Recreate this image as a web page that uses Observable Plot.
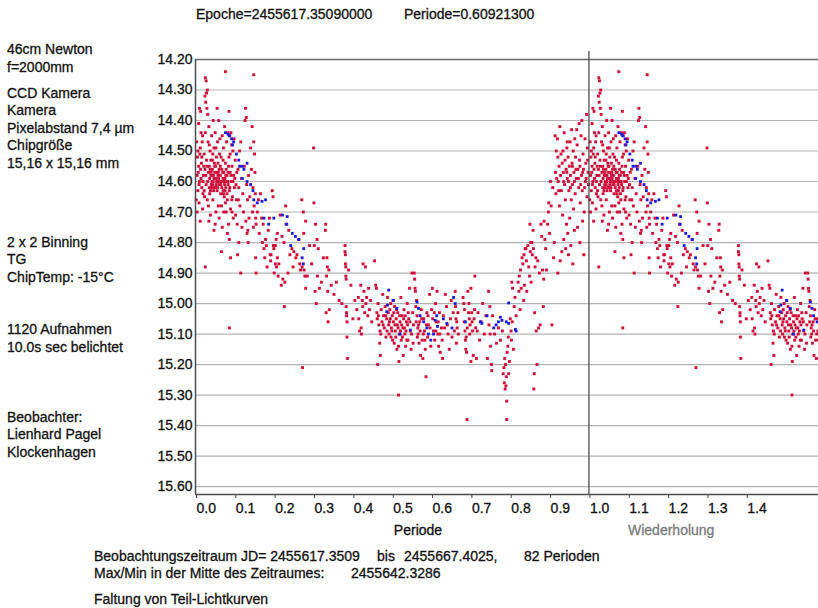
<!DOCTYPE html>
<html>
<head>
<meta charset="utf-8">
<script src="https://cdn.jsdelivr.net/npm/d3@7"></script>
<script src="https://cdn.jsdelivr.net/npm/@observablehq/plot@0.6"></script>
<style>
  html, body { margin: 0; padding: 0; background: #fff; }
  #page { position: relative; width: 818px; height: 608px; overflow: hidden; background: #fff;
          font-family: "Liberation Sans", Arial, sans-serif; font-size: 14px; color: #111; }
  #chart { position: absolute; left: 0; top: 0; }
  .t { position: absolute; white-space: pre; line-height: 16px; -webkit-text-stroke: 0.3px currentColor; }
  #chart text { stroke: #111; stroke-width: 0.3px; }
</style>
</head>
<body>
<div id="page"><div id="chart"></div></div>
<script>
// ---------- data ----------
const titleEpoch = "Epoche=2455617.35090000";
const titlePeriod = "Periode=0.60921300";
const infoInstrument = ["46cm Newton", "f=2000mm"];
const infoCamera = ["CCD Kamera", "Kamera", "Pixelabstand 7,4 µm", "Chipgröße", "15,16 x 15,16 mm"];
const infoBinning = ["2 x 2 Binning", "TG", "ChipTemp: -15°C"];
const infoExposure = ["1120 Aufnahmen", "10.0s sec belichtet"];
const infoObserver = ["Beobachter:", "Lienhard Pagel", "Klockenhagen"];
const xLabel = "Periode";
const xLabelRepeat = "Wiederholung";
const footer1 = ["Beobachtungszeitraum JD= 2455617.3509", "bis", "2455667.4025,", "82 Perioden"];
const footer2 = ["Max/Min in der Mitte des Zeitraumes:", "2455642.3286"];
const footer3 = "Faltung von Teil-Lichtkurven";

const yTicks = [14.2, 14.3, 14.4, 14.5, 14.6, 14.7, 14.8, 14.9, 15.0, 15.1, 15.2, 15.3, 15.4, 15.5, 15.6];
const xTicks = [0, 0.1, 0.2, 0.3, 0.4, 0.5, 0.6, 0.7, 0.8, 0.9, 1.0, 1.1, 1.2, 1.3, 1.4];

// [phase, magnitude] - individual measurements (red)
const redPoints = [
[0.003,14.47],[0.005,14.52],[0.004,14.58],[0.006,14.63],[0.002,14.66],[0.004,14.70],[0.008,14.41],[0.010,14.36],[0.013,14.37],[0.008,14.55],
[0.010,14.60],[0.012,14.49],[0.015,14.54],[0.016,14.62],[0.018,14.45],[0.020,14.58],[0.022,14.51],[0.024,14.32],[0.025,14.26],[0.027,14.27],
[0.028,14.31],[0.030,14.30],[0.026,14.34],[0.029,14.36],[0.031,14.38],[0.025,14.44],[0.024,14.56],[0.027,14.61],[0.028,14.53],[0.023,14.65],
[0.012,14.73],[0.018,14.69],[0.025,14.88],[0.007,14.57],[0.014,14.59],[0.019,14.64],[0.021,14.55],[0.011,14.51],[0.017,14.47],[0.009,14.67],
[0.032,14.47],[0.034,14.42],[0.035,14.55],[0.036,14.59],[0.037,14.50],[0.038,14.63],[0.040,14.57],[0.041,14.45],[0.042,14.60],[0.043,14.53],
[0.044,14.66],[0.045,14.40],[0.046,14.58],[0.047,14.49],[0.048,14.62],[0.049,14.55],[0.050,14.44],[0.051,14.59],[0.052,14.70],[0.053,14.52],
[0.054,14.57],[0.055,14.36],[0.055,14.63],[0.056,14.47],[0.057,14.54],[0.058,14.60],[0.059,14.40],[0.060,14.56],[0.060,14.72],[0.034,14.73],
[0.038,14.71],[0.047,14.76],[0.050,14.74],[0.033,14.68],[0.044,14.51],[0.041,14.62],[0.036,14.64],[0.039,14.58],[0.053,14.61],[0.057,14.58],
[0.045,14.60],[0.049,14.57],[0.052,14.59],[0.043,14.56],[0.048,14.54],[0.058,14.57],[0.040,14.61],[0.046,14.63],
[0.006,14.50],[0.009,14.61],[0.013,14.56],[0.016,14.52],[0.019,14.60],[0.022,14.63],[0.026,14.58],[0.029,14.55],[0.031,14.60],[0.033,14.57],
[0.035,14.62],[0.037,14.56],[0.039,14.53],[0.042,14.58],[0.044,14.61],[0.047,14.59],[0.050,14.62],[0.051,14.55],[0.054,14.60],[0.056,14.62],
[0.059,14.59],[0.061,14.61],[0.063,14.55],[0.067,14.62],[0.069,14.57],[0.071,14.64],[0.073,14.60],[0.075,14.63],[0.078,14.56],[0.080,14.64],
[0.082,14.60],[0.084,14.55],[0.087,14.62],[0.090,14.58],[0.092,14.66],[0.095,14.60],[0.035,14.48],[0.052,14.49],[0.061,14.51],[0.070,14.53],
[0.088,14.51],[0.014,14.44],[0.030,14.66],[0.058,14.68],[0.076,14.67],[0.093,14.70],[0.100,14.59],[0.103,14.61],[0.105,14.57],[0.109,14.66],
[0.062,14.46],[0.063,14.58],[0.064,14.61],[0.065,14.52],[0.066,14.68],[0.067,14.56],[0.068,14.45],[0.069,14.60],[0.070,14.63],[0.071,14.49],
[0.072,14.57],[0.073,14.65],[0.074,14.42],[0.075,14.59],[0.076,14.24],[0.076,14.54],[0.077,14.62],[0.078,14.70],[0.079,14.47],[0.080,14.58],
[0.081,14.66],[0.082,14.44],[0.083,14.61],[0.084,14.74],[0.085,14.37],[0.085,14.52],[0.086,14.63],[0.087,14.45],[0.088,14.57],[0.089,14.69],
[0.090,14.44],[0.091,14.60],[0.092,14.48],[0.093,14.55],[0.094,14.65],[0.095,14.50],[0.096,14.72],[0.097,14.58],[0.098,14.46],[0.099,14.62],
[0.086,14.79],[0.081,14.77],[0.089,14.85],[0.068,14.75],[0.066,14.83],[0.072,14.70],[0.064,14.64],[0.079,14.60],[0.086,15.08],[0.070,14.59],
[0.074,14.61],[0.077,14.58],[0.083,14.57],[0.065,14.60],
[0.101,14.53],[0.102,14.71],[0.104,14.66],[0.106,14.74],[0.108,14.56],[0.110,14.62],[0.112,14.50],[0.113,14.68],[0.115,14.47],[0.117,14.59],
[0.118,14.75],[0.120,14.64],[0.122,14.70],[0.124,14.55],[0.126,14.40],[0.127,14.36],[0.128,14.73],[0.129,14.39],[0.130,14.61],[0.131,14.77],
[0.132,14.66],[0.134,14.80],[0.135,14.58],[0.136,14.72],[0.138,14.65],[0.140,14.49],[0.142,14.56],[0.144,14.42],[0.145,14.70],[0.146,14.62],
[0.147,14.75],[0.148,14.25],[0.148,14.47],[0.149,14.68],[0.150,14.51],[0.151,14.57],[0.152,14.64],[0.153,14.72],[0.154,14.74],[0.107,14.84],
[0.115,14.90],[0.153,14.85],[0.154,14.90],[0.133,14.76],[0.110,14.80],
[0.157,14.70],[0.160,14.66],[0.162,14.77],[0.165,14.64],[0.168,14.72],[0.170,14.80],[0.172,14.74],[0.174,14.82],[0.176,14.85],[0.178,14.79],
[0.180,14.81],[0.182,14.88],[0.185,14.76],[0.188,14.72],[0.190,14.84],[0.191,14.86],[0.192,14.84],[0.195,14.63],[0.197,14.65],[0.198,14.81],
[0.199,14.82],[0.200,14.90],[0.203,14.81],[0.203,14.87],[0.205,14.79],[0.206,14.88],[0.208,14.77],[0.208,14.85],[0.210,14.91],[0.212,14.87],
[0.215,14.71],[0.218,14.94],[0.220,14.78],[0.222,14.92],[0.225,14.80],[0.227,14.93],[0.229,14.68],[0.230,14.74],[0.235,14.90],[0.237,14.76],
[0.240,14.84],[0.245,14.82],[0.248,14.88],[0.250,14.83],[0.226,15.01],
[0.255,14.85],[0.258,14.84],[0.262,14.79],[0.265,14.87],[0.267,14.89],[0.270,14.66],[0.271,14.88],[0.272,15.21],[0.274,14.70],[0.275,14.77],
[0.276,14.89],[0.278,14.91],[0.280,14.73],[0.280,14.95],[0.284,14.91],[0.290,14.81],[0.295,14.87],[0.300,14.49],[0.301,14.67],[0.302,14.81],
[0.304,14.96],[0.305,14.74],[0.307,15.00],[0.309,14.79],[0.310,14.91],[0.312,14.82],[0.315,14.95],[0.320,14.93],[0.325,14.85],[0.330,14.76],
[0.331,14.74],[0.332,15.03],[0.333,14.91],[0.334,14.85],[0.335,14.88],[0.336,14.96],[0.337,15.06],[0.339,14.89],[0.340,15.02],[0.345,14.94],
[0.352,14.97],[0.358,14.93],[0.365,14.99],[0.372,15.00],[0.380,14.81],[0.380,14.83],[0.381,14.84],[0.381,14.87],[0.382,14.88],[0.382,14.91],
[0.383,14.92],[0.383,15.01],[0.384,15.03],[0.384,15.04],[0.385,15.06],[0.385,15.11],[0.386,15.18],[0.389,14.89],[0.395,14.94],[0.400,15.05],
[0.405,14.99],[0.410,15.02],[0.414,14.98],[0.415,15.05],[0.417,15.09],[0.420,14.94],[0.421,15.08],[0.422,15.10],[0.424,14.99],[0.425,15.01],
[0.426,14.87],[0.428,14.96],[0.430,15.03],[0.432,14.88],[0.433,15.00],[0.435,14.98],[0.438,15.04],[0.440,14.95],[0.442,15.02],[0.445,14.99],
[0.448,15.06],
[0.455,14.86],[0.458,14.94],[0.460,14.95],[0.461,15.03],[0.462,15.05],[0.463,15.20],[0.464,15.00],[0.466,15.07],[0.468,15.13],[0.469,15.09],
[0.470,15.17],[0.472,15.02],[0.474,15.06],[0.476,14.97],[0.478,15.04],[0.480,15.08],[0.482,15.01],[0.484,15.11],[0.486,15.05],[0.488,14.98],
[0.490,15.03],[0.491,15.07],[0.492,15.10],[0.494,15.02],[0.495,15.05],[0.497,15.11],[0.498,15.08],[0.500,15.04],[0.502,14.99],[0.503,15.06],
[0.505,15.13],[0.506,15.01],[0.508,15.09],[0.510,15.05],[0.512,15.15],[0.513,15.07],[0.514,15.03],[0.516,15.14],[0.516,15.30],[0.517,15.19],
[0.518,15.10],[0.520,15.06],[0.522,14.98],[0.523,15.12],[0.525,15.04],[0.527,15.08],[0.528,15.17],[0.530,15.02],[0.532,15.10],[0.534,15.14],
[0.536,15.06],[0.538,15.00],[0.540,15.12],[0.542,15.05],[0.544,14.95],[0.546,15.09],[0.548,15.15],[0.550,14.90],[0.552,15.03],[0.554,15.07],
[0.465,15.04],[0.471,15.10],[0.477,15.07],[0.483,15.04],[0.487,15.09],[0.493,15.06],[0.496,15.00],[0.499,15.09],[0.501,15.12],[0.504,15.03],
[0.507,15.07],[0.509,15.11],[0.511,15.02],[0.515,15.08],[0.519,15.04],[0.521,15.09],[0.524,15.07],[0.526,15.11],[0.529,15.05],[0.531,15.08],
[0.533,15.04],[0.535,15.09],[0.537,15.12],[0.539,15.07],[0.541,15.03],[0.545,15.06],[0.549,15.10],[0.553,15.13],
[0.556,14.90],[0.557,14.92],[0.558,14.95],[0.559,14.96],[0.560,15.01],[0.562,14.99],[0.563,15.04],[0.565,15.08],[0.566,15.10],[0.568,15.13],
[0.570,15.06],[0.572,15.17],[0.574,15.02],[0.576,15.12],[0.578,15.18],[0.580,15.05],[0.582,15.09],[0.584,15.15],[0.586,15.24],[0.588,15.03],
[0.590,15.11],[0.592,15.07],[0.595,14.97],[0.598,15.14],[0.600,15.02],[0.602,14.95],[0.605,15.09],[0.608,15.12],[0.610,15.00],[0.612,15.06],
[0.614,14.96],[0.616,15.10],[0.618,15.14],[0.620,15.03],[0.622,15.16],[0.625,15.08],[0.628,15.18],[0.630,15.04],[0.635,14.97],[0.638,15.01],
[0.640,15.07],[0.642,15.10],[0.645,15.15],[0.648,15.05],[0.650,14.99],
[0.561,15.06],[0.564,15.11],[0.567,15.07],[0.571,15.09],[0.575,15.05],[0.579,15.10],[0.583,15.12],[0.587,15.07],[0.591,15.04],[0.596,15.08],
[0.603,15.05],[0.607,15.03],[0.611,15.09],[0.617,15.06],[0.621,15.10],[0.627,15.12],[0.633,15.08],
[0.652,15.11],[0.655,15.03],[0.658,15.09],[0.660,14.96],[0.661,15.01],[0.662,15.05],[0.663,15.13],[0.665,15.08],[0.668,15.10],[0.680,14.98],
[0.682,15.00],[0.684,15.02],[0.685,15.09],[0.686,15.12],[0.687,15.15],[0.688,15.11],[0.689,15.16],[0.690,15.38],[0.692,14.96],[0.694,15.03],
[0.695,15.00],[0.696,15.05],[0.698,15.07],[0.700,14.95],[0.700,15.19],[0.702,15.03],[0.704,15.09],[0.706,15.17],[0.708,15.05],[0.710,14.91],
[0.712,15.08],[0.714,15.18],[0.718,15.03],[0.722,15.12],[0.726,15.06],[0.730,15.00],[0.734,15.10],[0.738,15.04],[0.742,15.18],[0.745,14.96],
[0.746,15.07],[0.748,15.01],[0.749,15.10],[0.750,15.14],[0.752,15.20],[0.753,15.22],
[0.664,15.06],[0.667,15.03],[0.683,15.06],[0.691,15.08],[0.697,15.10],[0.703,15.06],[0.709,15.02],[0.716,15.09],
[0.755,15.04],[0.760,15.10],[0.765,15.13],[0.770,15.08],[0.775,15.12],[0.780,15.09],[0.782,15.23],[0.784,15.21],[0.785,15.26],[0.786,15.18],
[0.787,15.28],[0.788,15.20],[0.789,15.27],[0.790,15.24],[0.791,15.32],[0.791,15.38],[0.792,15.16],[0.794,15.14],[0.795,15.11],[0.796,15.23],
[0.798,15.19],[0.800,15.05],[0.802,15.09],[0.803,15.12],[0.804,14.93],[0.805,15.06],[0.806,14.95],[0.808,15.15],[0.810,15.01],[0.812,14.98],
[0.815,15.04],
[0.820,14.93],[0.822,14.96],[0.823,14.91],[0.825,15.02],[0.826,14.89],[0.828,14.95],[0.830,14.85],[0.832,14.87],[0.834,14.99],[0.835,14.84],
[0.836,14.94],[0.838,14.82],[0.840,14.82],[0.841,14.86],[0.842,14.96],[0.845,14.81],[0.847,14.88],[0.849,14.91],[0.850,14.74],[0.851,14.83],
[0.852,14.80],[0.853,14.93],[0.855,14.80],[0.856,14.84],[0.858,14.76],[0.859,14.82],[0.860,15.28],[0.861,15.23],[0.862,15.03],[0.863,14.88],
[0.865,14.85],[0.866,15.09],[0.868,15.20],[0.870,14.86],[0.872,15.08],[0.874,14.90],[0.876,15.07],[0.878,14.74],[0.880,14.78],[0.882,14.89],
[0.884,15.01],[0.885,14.92],[0.886,14.73],[0.888,14.79],[0.890,14.82],[0.892,14.89],[0.895,14.74],[0.897,14.70],[0.898,14.67],[0.900,14.77],
[0.902,14.60],[0.904,14.68],[0.906,15.07],[0.908,14.62],[0.910,14.85],[0.912,14.80],
[0.914,14.45],[0.915,14.57],[0.916,14.64],[0.918,14.59],[0.920,14.46],[0.921,14.52],[0.922,14.60],[0.924,14.55],[0.925,14.68],[0.926,14.42],
[0.928,14.58],[0.930,14.63],[0.932,14.54],[0.933,14.71],[0.934,14.50],[0.935,14.57],[0.937,14.44],[0.938,14.61],[0.939,14.53],[0.940,14.66],
[0.941,14.82],[0.942,14.56],[0.943,14.74],[0.944,14.49],[0.945,14.59],[0.946,14.77],[0.947,14.52],[0.948,14.84],[0.949,14.63],[0.950,14.55],
[0.951,14.72],[0.952,14.47],[0.953,14.58],[0.954,14.81],[0.955,14.66],[0.956,14.43],[0.957,14.54],[0.958,14.61],[0.960,14.50],[0.961,14.69],
[0.962,14.57],[0.964,14.46],[0.965,14.64],[0.966,14.52],[0.968,14.59],[0.970,14.48],[0.971,14.75],[0.972,14.56],[0.974,14.62],[0.975,14.41],
[0.976,14.53],[0.978,14.67],[0.980,14.45],[0.981,14.58],[0.982,14.40],[0.983,14.63],[0.985,14.51],[0.986,14.56],[0.988,14.70],[0.990,14.46],
[0.991,14.60],[0.992,14.54],[0.994,14.38],[0.995,14.65],[0.996,14.49],[0.998,14.57],
[0.921,14.90],[0.927,14.86],[0.931,14.83],[0.936,14.79],[0.959,14.87],[0.963,14.76],[0.977,14.80],[0.984,14.73],[0.987,14.84],
[0.917,14.50],[0.923,14.63],[0.929,14.51],[0.936,14.60],[0.944,14.57],[0.948,14.60],[0.953,14.62],[0.958,14.55],[0.963,14.60],[0.967,14.56],
[0.973,14.59],[0.977,14.55],[0.979,14.61],[0.984,14.57],[0.989,14.62],[0.993,14.59],[0.997,14.53],[0.999,14.61],[0.969,14.43],[0.945,14.47]
];

// [phase, magnitude] - partial light curve (blue)
const bluePoints = [
[0.076,14.44],[0.083,14.445],[0.086,14.45],[0.092,14.46],[0.097,14.47],[0.094,14.48],[0.104,14.51],[0.110,14.53],[0.119,14.55],[0.123,14.56],
[0.112,14.55],[0.131,14.54],[0.119,14.59],[0.131,14.60],[0.140,14.61],[0.146,14.63],[0.148,14.66],[0.157,14.67],[0.169,14.665],[0.178,14.66],
[0.174,14.72],[0.186,14.74],[0.199,14.72],[0.221,14.71],[0.233,14.715],[0.232,14.74],[0.246,14.77],[0.254,14.78],[0.263,14.79],[0.242,14.81],
[0.275,14.82],[0.271,14.85],[0.274,14.87],
[0.491,14.956],[0.503,14.99],[0.488,15.005],[0.486,15.027],[0.512,15.016],[0.520,15.10],[0.546,15.087],[0.563,14.995],[0.567,15.016],[0.571,15.04],
[0.580,15.06],[0.588,15.08],[0.592,15.10],[0.598,15.12],[0.605,15.10],[0.609,15.055],[0.613,15.04],[0.615,15.075],[0.630,15.05],[0.639,15.065],
[0.652,15.08],[0.656,14.98],[0.660,15.00],[0.686,15.06],[0.724,15.06],[0.728,15.065],[0.741,15.04],[0.758,15.08],[0.764,15.07],[0.770,15.06],
[0.775,15.045],[0.779,15.055],[0.790,15.06],[0.796,15.065],[0.796,14.998],[0.813,15.085],[0.815,15.09]
];

// ---------- layout / styles ----------
const xDomain = [0, 1.5835];
const yDomain = [14.2, 15.626];
const redColor = "#d0103a";
const blueColor = "#1c1ce0";
const axisColor = "#4d4d4d";
const gridColor = "#b3b3b3";

// phased data plus its repetition one period later ("Wiederholung")
const repeat = pts => pts.concat(pts.map(([p, m]) => [p + 1, m])).filter(([p]) => p <= xDomain[1]);
const redAll = repeat(redPoints);
const blueAll = repeat(bluePoints);

const chart = Plot.plot({
  width: 818,
  height: 540,
  marginLeft: 195,
  marginRight: 0,
  marginTop: 59,
  marginBottom: 46,
  style: { fontFamily: "'Liberation Sans', Arial, sans-serif", fontSize: "14px", color: "#111", background: "transparent" },
  x: { domain: xDomain },
  y: { domain: yDomain, reverse: true },
  marks: [
    Plot.gridY(yTicks.slice(1), { stroke: gridColor, strokeOpacity: 1, strokeWidth: 1.2 }),
    Plot.dot(redAll, { x: d => d[0], y: d => d[1], symbol: "square", r: 1.65, fill: redColor, stroke: "none" }),
    Plot.dot(blueAll, { x: d => d[0], y: d => d[1], symbol: "square", r: 1.6, fill: blueColor, stroke: "none" }),
    Plot.ruleY([yDomain[0]], { stroke: "#6a6a6a", strokeWidth: 1.4 }),
    Plot.ruleY([yDomain[1]], { stroke: axisColor, strokeWidth: 1.5 }),
    Plot.ruleX([xDomain[0]], { stroke: axisColor, strokeWidth: 1.5 }),
    Plot.ruleX([{ x: 1, y1: yDomain[0] - 8 / 305, y2: yDomain[1] }], { x: "x", y1: "y1", y2: "y2", stroke: axisColor, strokeWidth: 1.3 }),
    Plot.axisY(yTicks, { tickSize: 0, tickPadding: 3, tickFormat: d3.format(".2f"), label: null, fill: "#111" }),
    Plot.axisX(xTicks, { tickSize: 4, tickPadding: 5, textAnchor: "start", dx: 1, tickFormat: d3.format(".1f"), label: null, stroke: axisColor, fill: "#111" })
  ]
});
document.getElementById("chart").appendChild(chart);

// ---------- HTML text around the chart ----------
const page = document.getElementById("page");
const BASE = 12.85; // baseline offset for 14px text in a 16px line box
function put(text, x, baseline, opts = {}) {
  const el = document.createElement("div");
  el.className = "t";
  el.textContent = text;
  el.style.left = x + "px";
  el.style.top = (baseline - BASE) + "px";
  if (opts.color) el.style.color = opts.color;
  if (opts.center) { el.style.transform = "translateX(-50%)"; }
  page.appendChild(el);
}
put(titleEpoch, 196, 19);
put(titlePeriod, 404, 19);
const leftX = 7;
infoInstrument.forEach((s, i) => put(s, leftX, 54.3 + i * 17.4));
infoCamera.forEach((s, i) => put(s, leftX, 97.7 + i * 17.5));
infoBinning.forEach((s, i) => put(s, leftX, 246.7 + i * 17.5));
infoExposure.forEach((s, i) => put(s, leftX, 334 + i * 17.6));
infoObserver.forEach((s, i) => put(s, leftX, 421.7 + i * 17.5));
put(xLabel, 418, 535, { center: true });
put(xLabelRepeat, 628, 535, { color: "#7a7a7a" });
[94, 377, 404, 524].forEach((x, i) => put(footer1[i], x, 561));
[94, 351].forEach((x, i) => put(footer2[i], x, 578.3));
put(footer3, 94, 604);
</script>
</body>
</html>
